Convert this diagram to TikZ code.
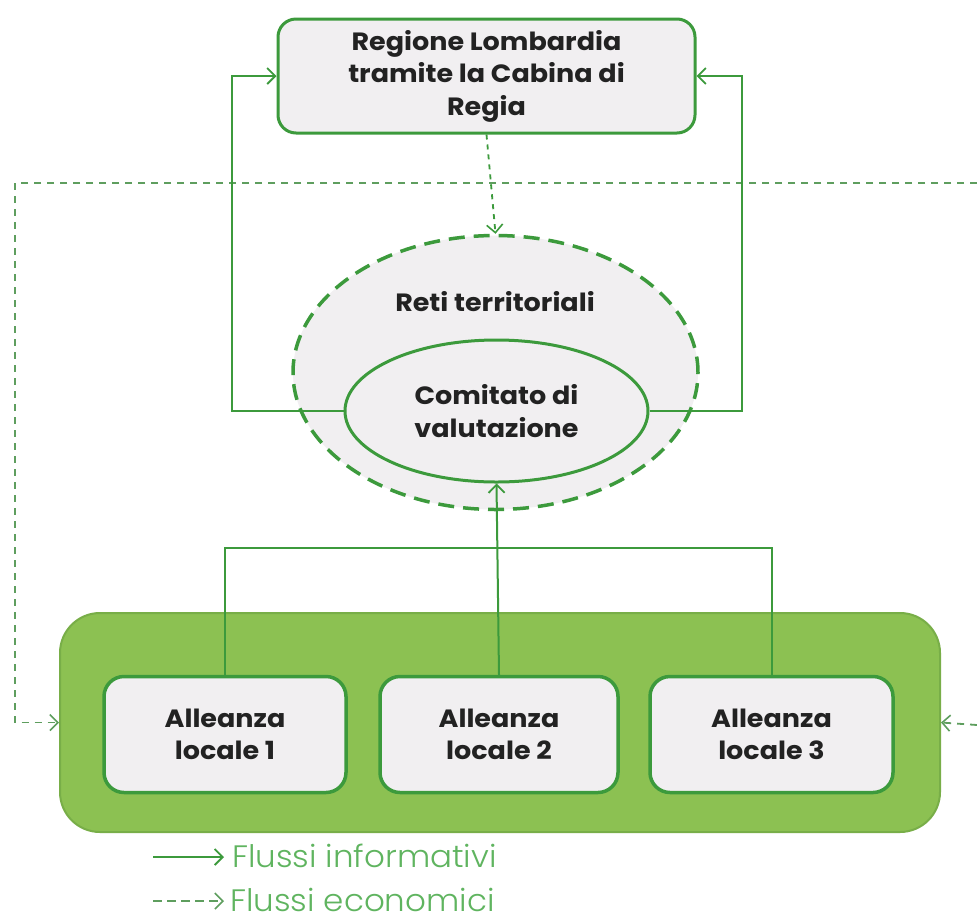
\documentclass[tikz,border=0pt]{standalone}
\usepackage{fontspec}
\setmainfont{Poppins}
\newfontfamily\boxfont[FakeStretch=1.08]{Poppins}
\newfontfamily\legfont[FakeStretch=1.05]{Poppins Light}
\usetikzlibrary{shapes.geometric,arrows.meta}
\definecolor{gline}{HTML}{3C9A3C}
\definecolor{gfill}{HTML}{8CC152}
\definecolor{gedge}{HTML}{78AE48}
\definecolor{lgray}{HTML}{F1EFF1}
\definecolor{gleg}{HTML}{5FB45F}
\definecolor{gdash}{HTML}{5E9E5E}
\definecolor{txt}{HTML}{222222}
\tikzset{
  boxtext/.style={text=txt, font=\boxfont\bfseries\fontsize{25}{32.5}\selectfont, align=center},
  regbox/.style={boxtext, draw=gline, line width=3pt, fill=lgray, rounded corners=18pt, minimum width=417pt, minimum height=114pt, inner sep=0pt},
  allbox/.style={boxtext, draw=gline, line width=3.5pt, fill=lgray, rounded corners=20pt, minimum width=242pt, minimum height=116pt, inner sep=0pt},
  info/.style={draw=gline, line width=2pt, -{Straight Barb[length=8pt,width=16pt,line width=1.8pt]}},
  infoline/.style={draw=gline, line width=2pt},
  econ/.style={draw=gdash, line width=1.8pt, dash pattern=on 7pt off 6pt},
  econarrow/.style={econ, -{Straight Barb[length=8pt,width=16pt,line width=1.6pt]}},
  legtext/.style={text=gleg, font=\legfont\fontsize{31}{36}\selectfont, anchor=west, inner sep=0pt},
}
\begin{document}
\begin{tikzpicture}[x=1pt,y=-1pt]
\useasboundingbox (0,0) rectangle (977,922);
\fill[white] (0,0) rectangle (977,922);

% coordinates for economic flow line
\coordinate (eL) at (15,183);
\coordinate (eR) at (977,183);
\coordinate (eRb) at (977,725);

% economic dashed lines (behind)
\draw[econ] (eR) -- (eL);

% top box
\node[regbox] (reg) at (486.5,76) {Regione Lombardia\\tramite la Cabina di\\Regia};

% ellipses
\node[ellipse, draw=gline, line width=3.5pt, dash pattern=on 16pt off 9pt, fill=lgray, minimum width=405pt, minimum height=274pt, inner sep=0pt] (reti) at (495.5,372.5) {};
\node[boxtext] (retilab) at (495,302) {Reti territoriali};
\node[ellipse, draw=gline, line width=3pt, fill=lgray, minimum width=303pt, minimum height=142pt, inner sep=0pt, boxtext] (com) at (496.5,411) {Comitato di\\valutazione};

% dotted econ arrow from Regione to Reti
\draw[econarrow, dash pattern=on 5pt off 5pt, gline] (reg.south) -- (reti.north);

% info arrows from comitato up to regione
\draw[info] (com.west) -- ++(-112,0) |- (reg.west);
\draw[info] (com.east) -- ++(92,0) |- (reg.east);

% big green box
\node[draw=gedge, line width=2pt, fill=gfill, rounded corners=40pt, minimum width=880pt, minimum height=219pt, inner sep=0pt] (all) at (500,722.5) {};

% alleanza boxes
\node[allbox] (a1) at (225,734.5) {Alleanza\\locale 1};
\node[allbox, minimum width=238pt] (a2) at (499,734.5) {Alleanza\\locale 2};
\node[allbox, minimum width=243pt] (a3) at (771.5,734.5) {Alleanza\\locale 3};

% info connectors from alleanze to comitato
\coordinate (hj) at (497,548);
\draw[infoline] (a1.north) |- (hj);
\draw[infoline] (a3.north) |- (hj);
\draw[info] (a2.north) -- (com.south);

% econ arrows into big box
\draw[econarrow] (eL) |- (all.west);
\draw[econarrow] (eRb) -- (all.east);

% legend
\node[legtext] (l1) at (232,856) {Flussi informativi};
\node[legtext] (l2) at (230,900) {Flussi economici};
\coordinate (l1s) at (153,857);
\coordinate (l1e) at (224,857);
\coordinate (l2s) at (153,901);
\coordinate (l2e) at (224,901);
\draw[info] (l1s) -- (l1e);
\draw[econarrow, dash pattern=on 9pt off 5pt] (l2s) -- (l2e);
\end{tikzpicture}
\end{document}
